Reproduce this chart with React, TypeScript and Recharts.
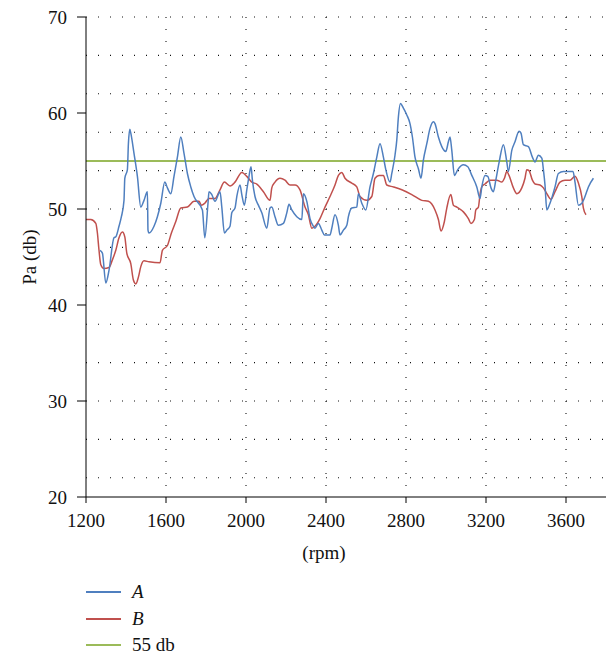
import { LineChart, Line, XAxis, YAxis, CartesianGrid, ReferenceLine } from 'recharts';

const rpmA = [
  1270, 1282, 1299, 1315, 1340, 1349, 1365, 1377, 1390, 1394,
  1407, 1412, 1419, 1424, 1440, 1457, 1474, 1490, 1507, 1510,
  1515, 1540, 1557, 1574, 1594, 1607, 1624, 1640, 1657, 1674,
  1690, 1707, 1724, 1740, 1782, 1794, 1810, 1815, 1829, 1845,
  1870, 1879, 1892, 1904, 1920, 1929, 1945, 1954, 1970, 1979,
  1992, 2004, 2015, 2025, 2032, 2045, 2062, 2079, 2104, 2120,
  2129, 2145, 2162, 2187, 2204, 2215, 2229, 2254, 2279, 2287,
  2304, 2320, 2337, 2345, 2362, 2379, 2392, 2420, 2429, 2445,
  2462, 2470, 2487, 2504, 2512, 2529, 2554, 2562, 2579, 2599,
  2620, 2637, 2654, 2670, 2687, 2699, 2720, 2729, 2745, 2754,
  2762, 2772, 2787, 2804, 2820, 2832, 2845, 2862, 2875, 2887,
  2904, 2920, 2937, 2945, 2962, 2979, 2999, 3012, 3020, 3029,
  3042, 3059, 3087, 3109, 3129, 3154, 3170, 3179, 3195, 3209,
  3225, 3237, 3249, 3265, 3287, 3304, 3312, 3329, 3345, 3365,
  3375, 3387, 3412, 3432, 3445, 3462, 3479, 3487, 3495, 3504,
  3520, 3545, 3562, 3587, 3635, 3645, 3662, 3679, 3695, 3712,
  3737,
];
const paA = [
  45.7, 45.4, 42.3, 43.6, 47.0, 47.1, 48.2, 49.2, 50.9, 53.2,
  54.1, 56.8, 58.3, 57.9, 55.8, 53.4, 50.2, 50.9, 51.8, 47.8,
  47.5, 48.2, 49.2, 50.6, 52.8, 52.2, 51.6, 53.4, 55.4, 57.5,
  55.8, 53.7, 52.3, 51.3, 49.9, 47.0, 50.6, 51.8, 51.5, 50.8,
  51.8, 50.2, 47.5, 47.8, 48.2, 49.6, 50.1, 51.3, 52.5, 51.5,
  50.4, 52.0, 53.4, 54.4, 53.0, 51.3, 50.4, 49.6, 48.0, 50.1,
  50.2, 49.2, 48.3, 48.5, 49.6, 50.5, 49.9, 49.2, 48.9, 51.6,
  50.8, 49.0, 48.2, 48.0, 48.5, 47.8, 47.3, 47.3, 48.0, 49.4,
  48.3, 47.3, 47.8, 48.3, 49.2, 50.1, 50.2, 51.6, 50.6, 49.9,
  52.3, 53.7, 55.4, 56.8, 55.4, 54.1, 52.8, 53.7, 55.6, 57.2,
  59.6, 61.0, 60.5, 59.8, 58.9, 57.5, 55.4, 54.2, 53.2, 55.1,
  56.8, 58.4, 59.1, 58.9, 57.5, 56.5, 56.0, 57.0, 57.5, 56.1,
  53.5, 54.1, 54.6, 54.4, 53.5, 52.3, 51.1, 52.3, 53.5, 53.4,
  52.2, 51.8, 53.0, 54.8, 56.7, 54.9, 53.9, 56.1, 57.0, 58.1,
  57.9, 56.7, 56.5, 55.4, 54.9, 55.6, 55.3, 54.1, 52.5, 49.9,
  50.6, 52.3, 53.7, 53.9, 53.9, 52.8, 50.4, 50.6, 51.3, 52.3,
  53.2,
];

const rpmB = [
  1200, 1224, 1249, 1257, 1265, 1274, 1290, 1315, 1332, 1349,
  1365, 1382, 1394, 1404, 1424, 1437, 1449, 1462, 1474, 1490,
  1515, 1570, 1582, 1607, 1627, 1649, 1674, 1707, 1740, 1765,
  1777, 1794, 1815, 1845, 1870, 1892, 1920, 1945, 1979, 2004,
  2029, 2054, 2087, 2120, 2129, 2145, 2170, 2195, 2220, 2245,
  2270, 2295, 2312, 2329, 2345, 2370, 2395, 2420, 2445, 2462,
  2479, 2495, 2529, 2554, 2570, 2604, 2629, 2645, 2665, 2687,
  2704, 2737, 2779, 2829, 2879, 2912, 2945, 2962, 2975, 2992,
  3004, 3024, 3037, 3054, 3087, 3112, 3125, 3142, 3149, 3162,
  3170, 3179, 3195, 3220, 3254, 3279, 3292, 3304, 3315, 3337,
  3354, 3379, 3395, 3404, 3415, 3432, 3445, 3470, 3487, 3504,
  3525, 3545, 3570, 3595, 3620, 3645, 3662, 3679, 3687, 3700,
];
const paB = [
  48.9, 48.9, 48.5, 47.5, 45.7, 44.2, 43.8, 43.9, 44.7, 45.7,
  47.0, 47.6, 47.1, 45.4, 44.3, 42.6, 42.2, 42.9, 44.0, 44.6,
  44.5, 44.4, 45.7, 46.2, 47.5, 48.7, 50.1, 50.2, 50.8, 50.8,
  50.4, 50.6, 51.1, 51.1, 52.0, 52.8, 52.4, 52.8, 53.8, 53.4,
  52.8, 52.6, 51.8, 50.9, 52.2, 52.8, 53.2, 53.0, 52.5, 52.5,
  52.0, 50.2, 49.4, 48.0, 48.2, 49.0, 50.2, 51.3, 52.5, 53.5,
  53.8, 53.2, 52.7, 52.3, 51.3, 50.9, 51.3, 53.2, 53.5, 53.5,
  52.5, 52.3, 52.0, 51.5, 50.9, 50.8, 49.9, 48.9, 47.7, 48.7,
  50.1, 51.5, 50.4, 50.2, 49.7, 49.0, 48.5, 48.9, 49.9, 50.2,
  51.5, 52.3, 52.6, 53.0, 53.0, 52.8, 53.2, 53.9, 53.5, 52.2,
  51.6, 52.2, 53.2, 54.1, 54.0, 53.0, 52.6, 52.5, 52.2, 51.6,
  51.0, 51.8, 52.8, 53.0, 53.0, 53.4, 52.7, 51.3, 50.1, 49.4,
];

const LIMIT_DB = 55;

const xTicks = [1200, 1600, 2000, 2400, 2800, 3200, 3600];
const yTicks = [20, 30, 40, 50, 60, 70];
const hGrid = [22, 24, 26, 28, 30, 32, 34, 36, 38, 40, 42, 44, 46, 48, 50, 52, 54, 56, 58, 60, 62, 64, 66, 68, 70];
const vGrid = [1600, 2000, 2400, 2800, 3200, 3600];

const BLUE = '#4f7fbf';
const RED = '#c0504d';
const GREEN = '#9bbb59';
const FONT = '"Liberation Serif", "DejaVu Serif", serif';

const dataA = rpmA.map((rpm, i) => ({ rpm, pa: paA[i] }));
const dataB = rpmB.map((rpm, i) => ({ rpm, pa: paB[i] }));

const legendItems = [
  { name: 'A', color: BLUE, italic: true },
  { name: 'B', color: RED, italic: true },
  { name: '55 db', color: GREEN, italic: false },
];

const YLabel = () => (
  <text x={29} y={257} transform="rotate(-90 29 257)" textAnchor="middle" dominantBaseline="central"
    fontFamily={FONT} fontSize={19} fill="#111">
    Pa (db)
  </text>
);

const XLabel = () => (
  <text x={324} y={552} textAnchor="middle" dominantBaseline="central" fontFamily={FONT} fontSize={19} fill="#111">
    (rpm)
  </text>
);

const tickStyle = { fontFamily: FONT, fontSize: 19, fill: '#111' };

export default function App() {
  return (
    <div style={{ position: 'absolute', top: 0, left: 0, width: 607, height: 654, background: '#fff' }}>
      <LineChart width={607} height={654} margin={{ top: 17, right: 1, bottom: 117, left: 26 }}>
        <CartesianGrid
          horizontalValues={hGrid}
          verticalValues={vGrid}
          stroke="#111"
          strokeWidth={1.1}
          strokeDasharray="1 11"
        />
        <XAxis
          type="number"
          dataKey="rpm"
          domain={[1200, 3800]}
          ticks={xTicks}
          allowDataOverflow
          height={40}
          tickSize={6}
          tickMargin={11}
          tick={tickStyle}
          axisLine={{ stroke: '#000' }}
          tickLine={{ stroke: '#000' }}
          label={<XLabel />}
        />
        <YAxis
          type="number"
          domain={[20, 70]}
          ticks={yTicks}
          width={60}
          tickSize={9}
          tickMargin={10}
          tick={tickStyle}
          axisLine={{ stroke: '#000' }}
          tickLine={{ stroke: '#000' }}
          label={<YLabel />}
        />
        <ReferenceLine y={LIMIT_DB} stroke={GREEN} strokeWidth={2} />
        <Line type="monotone" data={dataB} dataKey="pa" name="B" stroke={RED} strokeWidth={1.5} dot={false} isAnimationActive={false} />
        <Line type="monotone" data={dataA} dataKey="pa" name="A" stroke={BLUE} strokeWidth={1.5} dot={false} isAnimationActive={false} />
      </LineChart>
      <div style={{ position: 'absolute', top: 579, left: 86, fontFamily: FONT, fontSize: 19, color: '#111' }}>
        {legendItems.map((item) => (
          <div key={item.name} style={{ display: 'flex', alignItems: 'center', height: 26.5 }}>
            <div style={{ width: 35, height: 2, background: item.color, marginRight: 11 }} />
            <span style={{ fontStyle: item.italic ? 'italic' : 'normal', lineHeight: '26px' }}>{item.name}</span>
          </div>
        ))}
      </div>
    </div>
  );
}
